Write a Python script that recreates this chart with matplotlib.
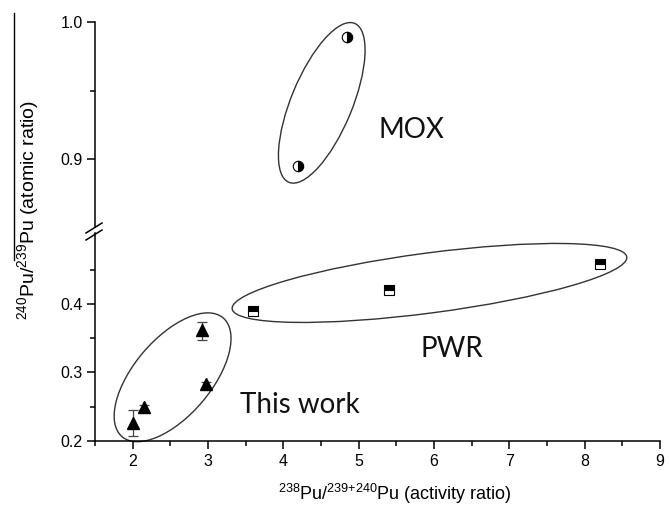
import matplotlib
matplotlib.use('Agg')
import matplotlib.pyplot as plt
from matplotlib.patches import Ellipse
from matplotlib.lines import Line2D
from matplotlib.transforms import ScaledTranslation
from matplotlib.ticker import MultipleLocator

plt.rcParams['font.family'] = ['Liberation Sans', 'DejaVu Sans']
plt.rcParams['mathtext.default'] = 'regular'

# this work (triangles, with error bars)
tw_x = [2.0, 2.15, 2.92, 2.98]
tw_y = [0.227, 0.249, 0.362, 0.283]
tw_err_lo = [0.020, 0.004, 0.014, 0.004]
tw_err_hi = [0.018, 0.003, 0.011, 0.003]

# PWR (half filled squares)
pwr_x = [3.6, 5.4, 8.2]
pwr_y = [0.390, 0.420, 0.458]

# MOX (half filled circles)
mox_x = [4.19, 4.85]
mox_y = [0.895, 0.989]

x_ticks = [2, 3, 4, 5, 6, 7, 8, 9]
y_ticks_low = [0.2, 0.3, 0.4]
y_minor_low = [0.25, 0.35, 0.45]
y_ticks_up = [0.9, 1.0]
y_minor_up = [0.95]

W, H = 670, 512
fig = plt.figure(figsize=(W / 100, H / 100), dpi=100)

# axes placed in pixels: left spine x=95, right end 660
L, R = 95 / W, 660 / W
ax_up = fig.add_axes([L, 1 - 227 / H, R - L, (227 - 22) / H])
ax_lo = fig.add_axes([L, 1 - 441 / H, R - L, (441 - 233) / H])

ax_up.set_ylim(0.8504, 1.0)
ax_lo.set_ylim(0.2, 0.5036)
for ax in (ax_up, ax_lo):
    ax.set_xlim(1.5, 9)
    ax.spines['top'].set_visible(False)
    ax.spines['right'].set_visible(False)
    ax.spines['left'].set_linewidth(1.1)
    ax.spines['bottom'].set_linewidth(1.1)
    ax.tick_params(which='major', direction='out', length=6, width=1.1,
                   labelsize=11.5, pad=3)
    ax.tick_params(which='minor', direction='out', length=3.5, width=1.1)
    ax.patch.set_alpha(0)

ax_up.spines['bottom'].set_visible(False)
ax_up.tick_params(axis='x', which='both', bottom=False, labelbottom=False)
ax_up.set_yticks(y_ticks_up)
ax_up.set_yticks(y_minor_up, minor=True)

ax_lo.set_xticks(x_ticks)
ax_lo.xaxis.set_minor_locator(MultipleLocator(0.5))
ax_lo.set_yticks(y_ticks_low)
ax_lo.set_yticks(y_minor_low, minor=True)

# data
ax_lo.errorbar(tw_x, tw_y, yerr=[tw_err_lo, tw_err_hi], fmt='^', color='black',
               ms=9, ecolor='#444444', elinewidth=0.9, capsize=3.5,
               capthick=0.9, zorder=3)
ax_lo.plot(pwr_x, pwr_y, ls='none', marker='s', ms=6.5, fillstyle='top',
           mfc='black', markerfacecoloralt='white', mec='black', mew=0.8,
           zorder=3)
ax_up.plot(mox_x, mox_y, ls='none', marker='o', ms=7.5, fillstyle='right',
           mfc='black', markerfacecoloralt='white', mec='black', mew=0.8,
           zorder=3)


def ring(ax, cx, cy, w, h, ang):
    # ellipse sized in inches, centred on a data point
    tr = fig.dpi_scale_trans + ScaledTranslation(cx, cy, ax.transData)
    e = Ellipse((0, 0), w, h, angle=ang, transform=tr, fill=False,
                edgecolor='#333333', lw=1.0, clip_on=False)
    ax.add_patch(e)


ring(ax_lo, 2.53, 0.293, 1.56, 0.77, 49.6)
ring(ax_lo, 5.94, 0.4307, 3.98, 0.60, 7.5)
ring(ax_up, 4.51, 0.941, 1.72, 0.61, 67.5)

big = dict(fontsize=20, family=['Lato', 'DejaVu Sans'], ha='center',
           va='center', color='#111111')
ax_up.text(5.7, 0.921, 'MOX', **big)
ax_lo.text(6.24, 0.334, 'PWR', **big)
ax_lo.text(4.22, 0.252, 'This work', **big)

# axis labels
fig.text(395 / W, 1 - 494 / H, '$^{238}$Pu/$^{239{+}240}$Pu (activity ratio)',
         ha='center', va='center', fontsize=13)
fig.text(28 / W, 1 - 210 / H, '$^{240}$Pu/$^{239}$Pu (atomic ratio)',
         ha='center', va='center', rotation=90, fontsize=14)

# axis break marks and the stray rule left of the y label
for (x0, y0), (x1, y1) in [((86, 233), (102, 223)), ((86, 240), (102, 230))]:
    fig.add_artist(Line2D([x0 / W, x1 / W], [1 - y0 / H, 1 - y1 / H],
                          transform=fig.transFigure, color='black', lw=1.1))
fig.add_artist(Line2D([14 / W, 14 / W], [1 - 13 / H, 1 - 260 / H],
                      transform=fig.transFigure, color='black', lw=1.0))

fig.savefig('out.png', dpi=100)
